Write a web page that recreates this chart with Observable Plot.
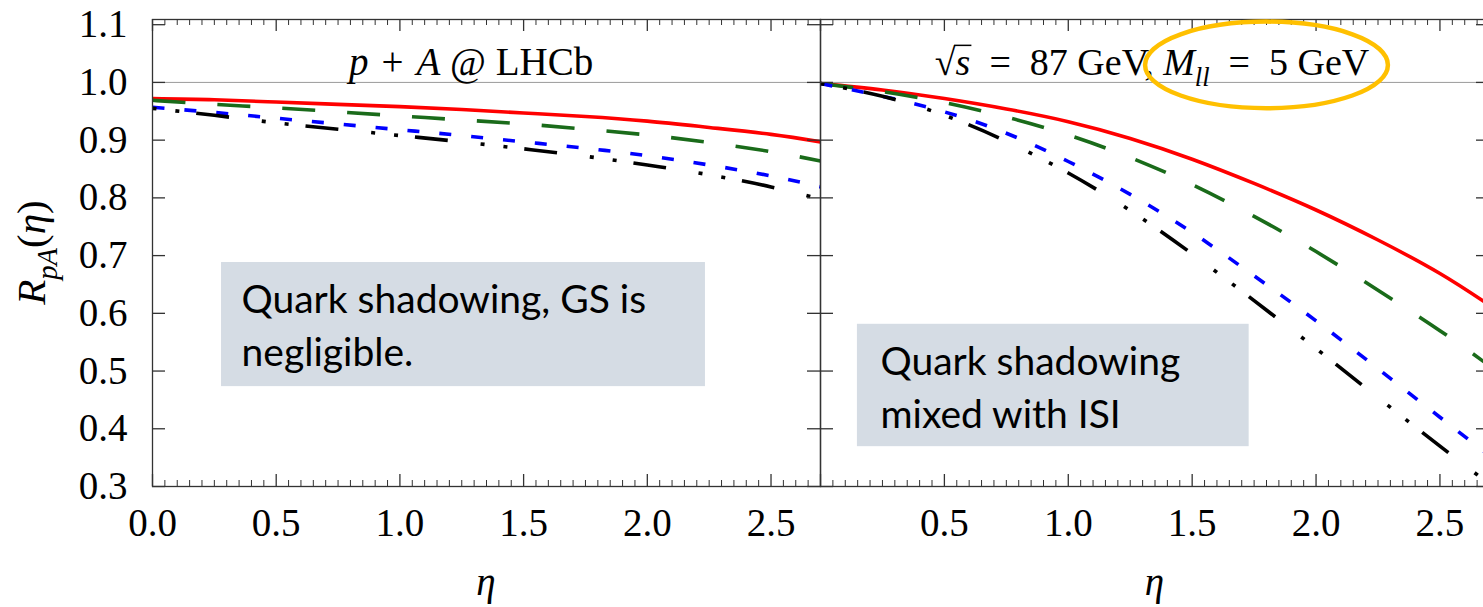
<!DOCTYPE html>
<html><head><meta charset="utf-8">
<script src="https://cdn.jsdelivr.net/npm/d3@7"></script>
<script src="https://cdn.jsdelivr.net/npm/@observablehq/plot@0.6"></script>
<style>
html,body{margin:0;padding:0;background:#fff;overflow:hidden;}
#chart{display:flex;width:1490px;}
#chart svg{overflow:visible;display:block;flex:none;}
</style>
</head><body><div id="chart"></div>
<script>
// ---- data ----
const etaGrid = [0, 0.25, 0.5, 0.75, 1.0, 1.25, 1.5, 1.75, 2.0, 2.25, 2.5, 2.7];

// left panel: p + A @ LHCb
const leftRed   = [0.972, 0.970, 0.966, 0.962, 0.958, 0.953, 0.947, 0.941, 0.933, 0.922, 0.910, 0.897];
const leftGreen = [0.969, 0.962, 0.956, 0.949, 0.942, 0.935, 0.928, 0.919, 0.909, 0.896, 0.880, 0.864];
const leftBlue  = [0.957, 0.948, 0.938, 0.928, 0.918, 0.908, 0.897, 0.886, 0.873, 0.857, 0.838, 0.819];
const leftBlack = [0.955, 0.943, 0.930, 0.919, 0.908, 0.897, 0.885, 0.872, 0.857, 0.840, 0.819, 0.798];

// right panel: sqrt(s) = 87 GeV, M_ll = 5 GeV
const rightRed   = [0.998, 0.987, 0.972, 0.954, 0.932, 0.903, 0.867, 0.825, 0.779, 0.727, 0.669, 0.614];
const rightGreen = [0.998, 0.984, 0.965, 0.940, 0.909, 0.870, 0.823, 0.768, 0.707, 0.640, 0.570, 0.509];
const rightBlue  = [0.998, 0.976, 0.949, 0.912, 0.863, 0.806, 0.740, 0.665, 0.587, 0.504, 0.420, 0.353];
const rightBlack = [0.998, 0.976, 0.943, 0.898, 0.843, 0.778, 0.703, 0.622, 0.539, 0.454, 0.370, 0.304];

// ticks / labels
const yTicks = [0.3, 0.4, 0.5, 0.6, 0.7, 0.8, 0.9, 1.0, 1.1];
const xMajor = [0, 0.5, 1.0, 1.5, 2.0, 2.5];
const xLabelsLeft = [0, 0.5, 1.0, 1.5, 2.0, 2.5];
const xLabelsRight = [0.5, 1.0, 1.5, 2.0, 2.5];
const xMinor = d3.range(1, 54).map(i => i * 0.05).filter(v => Math.abs(v / 0.5 - Math.round(v / 0.5)) > 1e-6);

const leftNote = "Quark shadowing, GS is\nnegligible.";
const rightNote = "Quark shadowing\nmixed with ISI";

// ---- layout / style ----
const H = 607, MT = 19, MB = 121;
const innerH = H - MT - MB;
const serif = "'Liberation Serif', 'DejaVu Serif', serif";
const sans = "Lato, 'Open Sans', sans-serif";
const tickFont = 39;
const styles = {
  red:   {stroke: "#ff0000", dash: null},
  green: {stroke: "#1a6b1a", dash: "33,32"},
  blue:  {stroke: "#0000ff", dash: "12,20"},
  black: {stroke: "#000000", dash: "4,19,4,17,33,33"}
};
const SP3 = "\u2004"; // three-per-em space (TeX-like binary-op spacing)
const SP2 = "\u2002"; // en space (TeX-like relation spacing)

function svgMark(draw) {
  return function(...args) {
    const scales = args.find(a => a && typeof a === "object" && typeof a.x === "function" && typeof a.y === "function");
    const dims = args.find(a => a && typeof a === "object" && "marginLeft" in a && "width" in a);
    const g = document.createElementNS("http://www.w3.org/2000/svg", "g");
    draw(d3.select(g), scales, dims);
    return g;
  };
}

function richText(g, parts, {x, y, fontSize, anchor = "middle", rotate = 0}) {
  const t = g.append("text")
    .attr("class", "rich")
    .attr("transform", `translate(${x},${y}) rotate(${rotate})`)
    .attr("text-anchor", anchor)
    .style("font-family", serif)
    .attr("font-size", fontSize)
    .attr("fill", "#000");
  let shift = 0;
  for (const p of parts) {
    const ts = t.append("tspan").text(p.t);
    if (p.i) ts.attr("font-style", "italic");
    const target = p.sub ? fontSize * 0.3 : 0;
    if (target !== shift) { ts.attr("dy", target - shift); shift = target; }
    if (p.sub) ts.attr("font-size", fontSize * 0.7);
    if (p.radicand) ts.attr("class", "radicand");
  }
}

function panel(o) {
  const innerW = o.width - o.marginLeft - o.marginRight;
  const lines = o.series.map(s => Plot.line(
    etaGrid.map((e, i) => ({eta: e, r: s.values[i]})),
    {x: "eta", y: "r", stroke: styles[s.key].stroke, strokeWidth: 3.6,
     strokeDasharray: styles[s.key].dash, strokeLinecap: "butt", strokeLinejoin: "round", curve: "natural"}
  ));
  const marks = [
    Plot.ruleY([1], {stroke: "#9a9a9a", strokeWidth: 1}),
    ...lines,
    Plot.frame({stroke: "#333", strokeWidth: 1.3}),
    Plot.tickX(xMinor, {x: d => d, insetTop: innerH - 6, stroke: "#333", strokeWidth: 1}),
    Plot.tickX(xMinor, {x: d => d, insetBottom: innerH - 6, stroke: "#333", strokeWidth: 1}),
    Plot.tickX(xMajor, {x: d => d, insetTop: innerH - 12, stroke: "#333", strokeWidth: 1.3}),
    Plot.tickX(xMajor, {x: d => d, insetBottom: innerH - 12, stroke: "#333", strokeWidth: 1.3}),
    Plot.tickY(yTicks, {y: d => d, insetRight: innerW - 13, stroke: "#333", strokeWidth: 1.3}),
    Plot.tickY(yTicks, {y: d => d, insetLeft: innerW - 13, stroke: "#333", strokeWidth: 1.3}),
    Plot.axisX({ticks: o.xLabels, tickSize: 0, tickPadding: 22, tickFormat: d3.format(".1f"), label: null,
      fontSize: tickFont, fontFamily: serif, fontVariant: "normal"}),
    svgMark((g, s, d) => richText(g, [{t: "η", i: true}],
      {x: (d.marginLeft + d.width - d.marginRight) / 2, y: d.height - d.marginBottom + 109, fontSize: tickFont})),
    Plot.rect([o.box], {x1: "x1", x2: "x2", y1: "y1", y2: "y2", fill: "#d5dce4"}),
    Plot.text([o.note], {text: d => d.text, x: d => d.x, y: d => d.y, textAnchor: "start", lineAnchor: "middle",
      lineHeight: 1.35, fontFamily: sans, fontSize: 39, fill: "#000"}),
    svgMark((g, s) => richText(g, o.title, {x: s.x(o.titlePos[0]), y: s.y(o.titlePos[1]), fontSize: o.titleSize}))
  ];
  if (o.yAxis) {
    marks.push(Plot.axisY({ticks: yTicks, tickSize: 0, tickPadding: 25, tickFormat: d3.format(".1f"), label: null,
      fontSize: tickFont, fontFamily: serif, fontVariant: "normal"}));
    marks.push(svgMark((g, s, d) => richText(g, [
      {t: "R", i: true}, {t: "pA", i: true, sub: true}, {t: "("}, {t: "η", i: true}, {t: ")"}
    ], {x: 45, y: (MT + H - MB) / 2, fontSize: 41, rotate: -90})));
  }
  if (o.ellipse) {
    const e = o.ellipse;
    marks.push(svgMark((g, s) => {
      g.append("ellipse")
        .attr("cx", s.x(e.cx)).attr("cy", s.y(e.cy))
        .attr("rx", s.x(e.cx + e.rx) - s.x(e.cx)).attr("ry", s.y(e.cy - e.ry) - s.y(e.cy))
        .attr("fill", "none").attr("stroke", "#ffc000").attr("stroke-width", 4.5);
    }));
  }
  return Plot.plot({
    width: o.width, height: H,
    marginLeft: o.marginLeft, marginRight: o.marginRight, marginTop: MT, marginBottom: MB,
    x: {domain: [0, 2.7]},
    y: {domain: [0.3, 1.109], axis: null},
    style: `font-family: ${serif}; font-size: ${tickFont}px; background: transparent; overflow: visible;`,
    marks
  });
}

const left = panel({
  width: 820, marginLeft: 152, marginRight: 0,
  series: [{key: "red", values: leftRed}, {key: "green", values: leftGreen}, {key: "blue", values: leftBlue}, {key: "black", values: leftBlack}],
  xLabels: xLabelsLeft, yAxis: true,
  box: {x1: 0.279, x2: 2.235, y1: 0.473, y2: 0.688},
  note: {text: leftNote, x: 0.36, y: 0.584},
  title: [{t: "p", i: true}, {t: SP3 + "+" + SP3}, {t: "A", i: true}, {t: " @ LHCb"}],
  titlePos: [1.29, 1.012], titleSize: 39
});
const right = panel({
  width: 670, marginLeft: 0, marginRight: 1,
  series: [{key: "red", values: rightRed}, {key: "green", values: rightGreen}, {key: "blue", values: rightBlue}, {key: "black", values: rightBlack}],
  xLabels: xLabelsRight, yAxis: false,
  box: {x1: 0.149, x2: 1.73, y1: 0.369, y2: 0.581},
  note: {text: rightNote, x: 0.242, y: 0.4766},
  title: [{t: "√"}, {t: "s", i: true, radicand: true}, {t: SP2 + "=" + SP2 + "87 GeV, "}, {t: "M", i: true}, {t: "ll", i: true, sub: true}, {t: SP2 + "=" + SP2 + "5 GeV"}],
  titlePos: [1.34, 1.012], titleSize: 38,
  ellipse: {cx: 1.802, cy: 1.0295, rx: 0.49, ry: 0.075}
});
document.getElementById("chart").append(left, right);

// make sure the axis tick labels use the serif face (inline style wins over everything)
document.querySelectorAll('#chart g[aria-label$="tick label"], #chart g[aria-label$="tick label"] text').forEach(el => {
  el.style.fontFamily = serif;
  el.style.fontVariant = "normal";
});

// vinculum of the square root over the radicand
document.querySelectorAll("#chart text.rich").forEach(t => {
  const spans = [...t.querySelectorAll("tspan")];
  const k = spans.findIndex(s => s.classList.contains("radicand"));
  if (k < 1) return;
  let ci = 0;
  for (let j = 0; j < k; j++) ci += spans[j].textContent.length;
  const a = t.getExtentOfChar(ci - 1);
  const b = t.getExtentOfChar(ci + spans[k].textContent.length - 1);
  const fs = +t.getAttribute("font-size");
  d3.select(t.parentNode).append("line")
    .attr("transform", t.getAttribute("transform"))
    .attr("x1", a.x + a.width - 1.5).attr("x2", b.x + b.width + 1)
    .attr("y1", -0.78 * fs).attr("y2", -0.78 * fs)
    .attr("stroke", "#000").attr("stroke-width", 1.5);
});
</script></body></html>
